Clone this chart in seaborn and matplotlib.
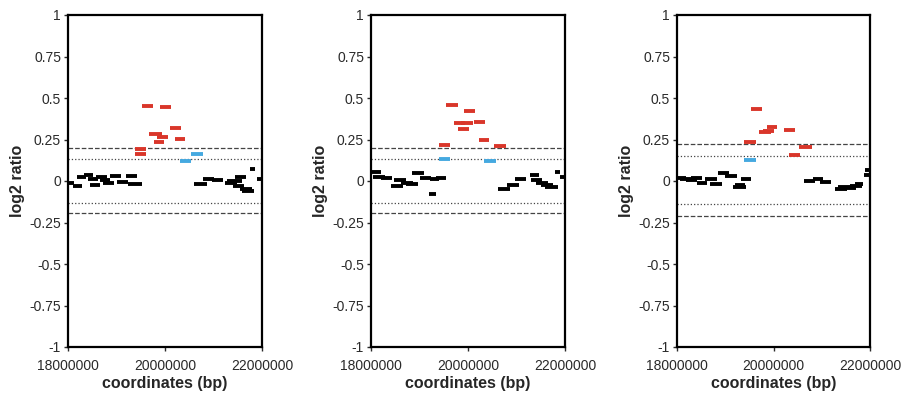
import numpy as np
import pandas as pd
import matplotlib
matplotlib.use("Agg")
import matplotlib.pyplot as plt
import seaborn as sns

# ---------------- data (coordinates in Mb, converted to bp) ----------------
# Panel 1
p1_start = [18.00, 18.10, 18.18, 18.32, 18.42, 18.45, 18.58, 18.65, 18.72, 18.86, 19.00, 19.20, 19.24,
            19.38, 19.38, 19.52, 19.68, 19.77, 19.84, 19.90, 20.10, 20.21,
            20.31, 20.53,
            20.60, 20.78, 20.96, 21.24, 21.27, 21.44, 21.41, 21.55, 21.58, 21.75, 21.89]
p1_end = [18.12, 18.28, 18.37, 18.52, 18.62, 18.67, 18.80, 18.87, 18.95, 19.09, 19.24, 19.42, 19.52,
          19.61, 19.61, 19.76, 19.93, 19.98, 20.06, 20.12, 20.32, 20.42,
          20.54, 20.78,
          20.86, 21.00, 21.19, 21.48, 21.58, 21.67, 21.62, 21.79, 21.84, 21.86, 22.00]
p1_value = [-0.01, -0.028, 0.024, 0.038, 0.014, -0.024, 0.026, 0.006, -0.014, 0.03, -0.008, 0.03, -0.016,
            0.192, 0.164, 0.454, 0.282, 0.232, 0.264, 0.446, 0.318, 0.254,
            0.12, 0.164,
            -0.018, 0.014, 0.008, -0.014, 0.0, 0.026, -0.028, -0.046, -0.062, 0.074, 0.01]
p1_class = ["normal"] * 13 + ["gain"] * 9 + ["weak"] * 2 + ["normal"] * 11
p1_thresh = [0.2, 0.135, -0.13, -0.195]

# Panel 2
p2_start = [18.02, 18.04, 18.21, 18.42, 18.48, 18.62, 18.73, 18.85, 19.00, 19.19, 19.22, 19.33,
            19.54, 19.91, 19.71, 19.85, 20.13, 19.79, 20.22, 19.41, 20.53,
            19.40, 20.34,
            20.61, 20.81, 20.96, 21.27, 21.30, 21.41, 21.51, 21.58, 21.80, 21.89]
p2_end = [18.21, 18.28, 18.44, 18.66, 18.73, 18.86, 18.96, 19.10, 19.24, 19.33, 19.41, 19.54,
          19.79, 20.15, 19.93, 20.10, 20.36, 20.02, 20.44, 19.63, 20.79,
          19.63, 20.57,
          20.87, 21.05, 21.20, 21.47, 21.53, 21.65, 21.75, 21.85, 21.89, 22.00]
p2_value = [0.054, 0.024, 0.02, -0.03, 0.006, -0.01, -0.016, 0.05, 0.018, -0.078, 0.01, 0.018,
            0.456, 0.424, 0.35, 0.35, 0.354, 0.312, 0.25, 0.214, 0.208,
            0.13, 0.12,
            -0.046, -0.024, 0.01, 0.034, 0.006, -0.01, -0.026, -0.034, 0.054, 0.026]
p2_class = ["normal"] * 12 + ["gain"] * 9 + ["weak"] * 2 + ["normal"] * 10
p2_thresh = [0.2, 0.135, -0.13, -0.19]

# Panel 3
p3_start = [18.00, 18.06, 18.18, 18.30, 18.41, 18.57, 18.68, 18.86, 18.99, 19.17, 19.20, 19.33,
            19.53, 19.70, 19.79, 19.86, 20.22, 19.39, 20.53, 20.32,
            19.39,
            20.64, 20.82, 20.96, 21.27, 21.34, 21.48, 21.59, 21.69, 21.88, 21.90]
p3_end = [18.18, 18.30, 18.41, 18.52, 18.62, 18.82, 18.93, 19.08, 19.24, 19.44, 19.41, 19.53,
          19.77, 19.95, 20.00, 20.08, 20.45, 19.63, 20.79, 20.55,
          19.63,
          20.86, 21.03, 21.19, 21.52, 21.59, 21.72, 21.83, 21.86, 21.98, 22.00]
p3_value = [0.02, 0.01, 0.004, 0.02, -0.01, 0.01, -0.018, 0.046, 0.03, -0.036, -0.026, 0.01,
            0.436, 0.294, 0.304, 0.326, 0.308, 0.236, 0.204, 0.156,
            0.128,
            0.0, 0.01, -0.006, -0.046, -0.034, -0.042, -0.03, -0.016, 0.034, 0.064]
p3_class = ["normal"] * 12 + ["gain"] * 8 + ["weak"] * 1 + ["normal"] * 10
p3_thresh = [0.225, 0.15, -0.14, -0.21]

y_ticks = [1, 0.75, 0.5, 0.25, 0, -0.25, -0.5, -0.75, -1]
y_tick_labels = ["1", "0.75", "0.5", "0.25", "0", "-0.25", "-0.5", "-0.75", "-1"]
x_ticks = [18000000, 20000000, 22000000]
x_tick_labels = ["18000000", "20000000", "22000000"]

palette = {"normal": "#000000", "gain": "#d9362a", "weak": "#45a9e0"}

# ---------------- plotting ----------------
sns.set_style("white")
plt.rcParams["font.family"] = ["Liberation Sans", "DejaVu Sans"]

fig = plt.figure(figsize=(9.07, 3.94), dpi=100)
lefts = [68 / 907, 371 / 907, 677 / 907]
widths = [194 / 907, 194 / 907, 193 / 907]
bottom = 1 - 347 / 394
height = 332 / 394

panels = [
    (p1_start, p1_end, p1_value, p1_class, p1_thresh),
    (p2_start, p2_end, p2_value, p2_class, p2_thresh),
    (p3_start, p3_end, p3_value, p3_class, p3_thresh),
]

for i, (st, en, val, cl, th) in enumerate(panels):
    ax = fig.add_axes([lefts[i], bottom, widths[i], height])
    rows = []
    for k, (s, e, v, c) in enumerate(zip(st, en, val, cl)):
        rows.append({"x": s * 1e6, "y": v, "seg": k, "cls": c})
        rows.append({"x": e * 1e6, "y": v, "seg": k, "cls": c})
    df = pd.DataFrame(rows)
    for t, ls in zip(th, ["--", ":", ":", "--"]):
        ax.axhline(t, color="#444444", lw=0.9, ls=ls, zorder=1)
    sns.lineplot(data=df, x="x", y="y", units="seg", estimator=None, hue="cls",
                 palette=palette, lw=2.8, legend=False, sort=False, ax=ax,
                 solid_capstyle="butt", zorder=3)
    ax.set_xlim(18000000, 22000000)
    ax.set_ylim(-1, 1)
    ax.set_yticks(y_ticks)
    ax.set_yticklabels(y_tick_labels)
    ax.set_xticks(x_ticks)
    ax.set_xticklabels(x_tick_labels)
    ax.tick_params(axis="both", direction="out", length=3, width=1, labelsize=10,
                   colors="#2a2a2a", bottom=True, left=True)
    ax.tick_params(axis="x", pad=6)
    ax.tick_params(axis="y", pad=2)
    for sp in ax.spines.values():
        sp.set_visible(True)
        sp.set_color("black")
        sp.set_linewidth(1.6)
    ax.set_xlabel("coordinates (bp)", fontsize=11.5, fontweight="bold", labelpad=2)
    ax.set_ylabel("log2 ratio", fontsize=11.5, fontweight="bold", labelpad=3)

fig.savefig("out.png", dpi=100)
